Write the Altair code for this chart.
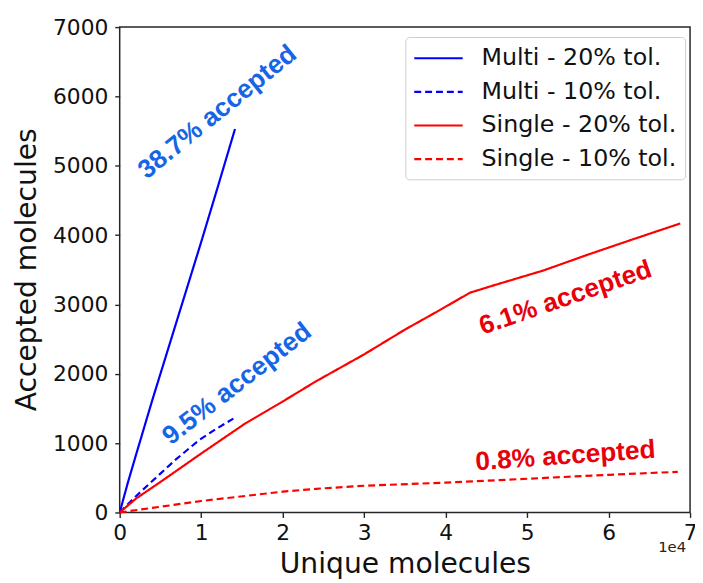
import altair as alt
import pandas as pd

# ---------------- data ----------------
series_names = ["Multi - 20% tol.", "Multi - 10% tol.", "Single - 20% tol.", "Single - 10% tol."]
series_colors = ["#0000ff", "#0000ff", "#ff0000", "#ff0000"]
series_dashes = [[1, 0], [7, 4], [1, 0], [7, 4]]

multi20_x = [0, 1000, 2000, 4000, 6000, 8000, 10000, 12000, 14150]
multi20_y = [0, 430, 830, 1620, 2380, 3140, 3900, 4680, 5530]

multi10_x = [0, 2000, 3600, 6900, 9700, 11700, 13950]
multi10_y = [0, 235, 410, 765, 1040, 1195, 1354]

single20_x = [0, 2000, 5000, 10000, 15400, 20000, 24100, 30000, 35000,
              38700, 43000, 46000, 52000, 57500, 63000, 68800]
single20_y = [0, 200, 440, 850, 1283, 1600, 1892, 2280, 2637,
              2880, 3170, 3279, 3490, 3720, 3940, 4168]

single10_x = [0, 10000, 20000, 24100, 30000, 40000, 50000, 60000, 68500]
single10_y = [0, 165, 300, 341, 385, 430, 486, 543, 586]

x_ticks = [0, 10000, 20000, 30000, 40000, 50000, 60000, 70000]
y_ticks = [0, 1000, 2000, 3000, 4000, 5000, 6000, 7000]

ann_texts = ["38.7% accepted", "9.5% accepted", "6.1% accepted", "0.8% accepted"]
ann_x = [12000, 14400, 54700, 54700]
ann_y = [5774, 1853, 3094, 813]

rows = []
for name, xs, ys in zip(series_names,
                        [multi20_x, multi10_x, single20_x, single10_x],
                        [multi20_y, multi10_y, single20_y, single10_y]):
    for i, (xv, yv) in enumerate(zip(xs, ys)):
        rows.append({"series": name, "unique": xv, "accepted": yv, "order": i})
df = pd.DataFrame(rows)

FONT = "DejaVu Sans"
ANN_FONT = "Liberation Sans"

legend = alt.Legend(
    title=None, orient="none", legendX=289, legendY=10,
    symbolType="M-2,0H2", symbolSize=600, symbolStrokeWidth=2.2, symbolOffset=12,
    labelFont=FONT, labelFontSize=24, labelColor="#111111", labelOffset=30, labelLimit=0,
    rowPadding=8, padding=8, strokeColor="#cccccc", fillColor="white",
    cornerRadius=4,
)

lines = alt.Chart(df).mark_line(strokeWidth=2.2).encode(
    x=alt.X("unique:Q", scale=alt.Scale(domain=[0, 70000], nice=False),
            axis=alt.Axis(values=x_ticks, labelExpr="datum.value / 10000",
                          title="Unique molecules", titleY=61, titleBaseline="alphabetic")),
    y=alt.Y("accepted:Q", scale=alt.Scale(domain=[0, 7000], nice=False),
            axis=alt.Axis(values=y_ticks, format="d", title="Accepted molecules")),
    color=alt.Color("series:N", scale=alt.Scale(domain=series_names, range=series_colors), legend=legend),
    strokeDash=alt.StrokeDash("series:N", scale=alt.Scale(domain=series_names, range=series_dashes), legend=legend),
    order="order:Q",
)

ann_colors = ["#1565e6", "#1565e6", "#e8000b", "#e8000b"]
ann_angles = [321, 322, 341, 356]

layers = [lines]
for t, xv, yv, c, a in zip(ann_texts, ann_x, ann_y, ann_colors, ann_angles):
    d = pd.DataFrame({"unique": [xv], "accepted": [yv], "label": [t]})
    layers.append(
        alt.Chart(d).mark_text(font=ANN_FONT, fontWeight="bold", fontSize=26.5, color=c,
                               angle=a, align="center", baseline="middle").encode(
            x="unique:Q", y="accepted:Q", text="label:N")
    )

exp_df = pd.DataFrame({"unique": [67800], "accepted": [-500], "label": ["1e4"]})
layers.append(
    alt.Chart(exp_df).mark_text(font=FONT, fontSize=15, color="#222222", align="center",
                                baseline="middle").encode(x="unique:Q", y="accepted:Q", text="label:N")
)

chart = alt.layer(*layers).properties(
    width=577, height=491,
    autosize=alt.AutoSizeParams(type="none"),
    padding={"left": 113, "top": 16, "right": 5, "bottom": 66},
).configure_view(
    stroke="#262626", strokeWidth=1.5
).configure_axis(
    grid=False, domain=False, labelFlush=False,
    labelFont=FONT, labelFontSize=22, labelColor="#111111",
    titleFont=FONT, titleFontSize=28.5, titleFontWeight="normal", titleColor="#111111",
    tickColor="#262626", tickSize=5, tickWidth=1.4,
).configure_axisX(
    labelPadding=5, labelAngle=0,
).configure_axisY(
    labelPadding=7, titleX=-85, titleY=245, titleAngle=270, titleAlign="center",
    titleBaseline="alphabetic",
)

chart.save("out.html", embed_options={"renderer": "svg", "actions": False})
